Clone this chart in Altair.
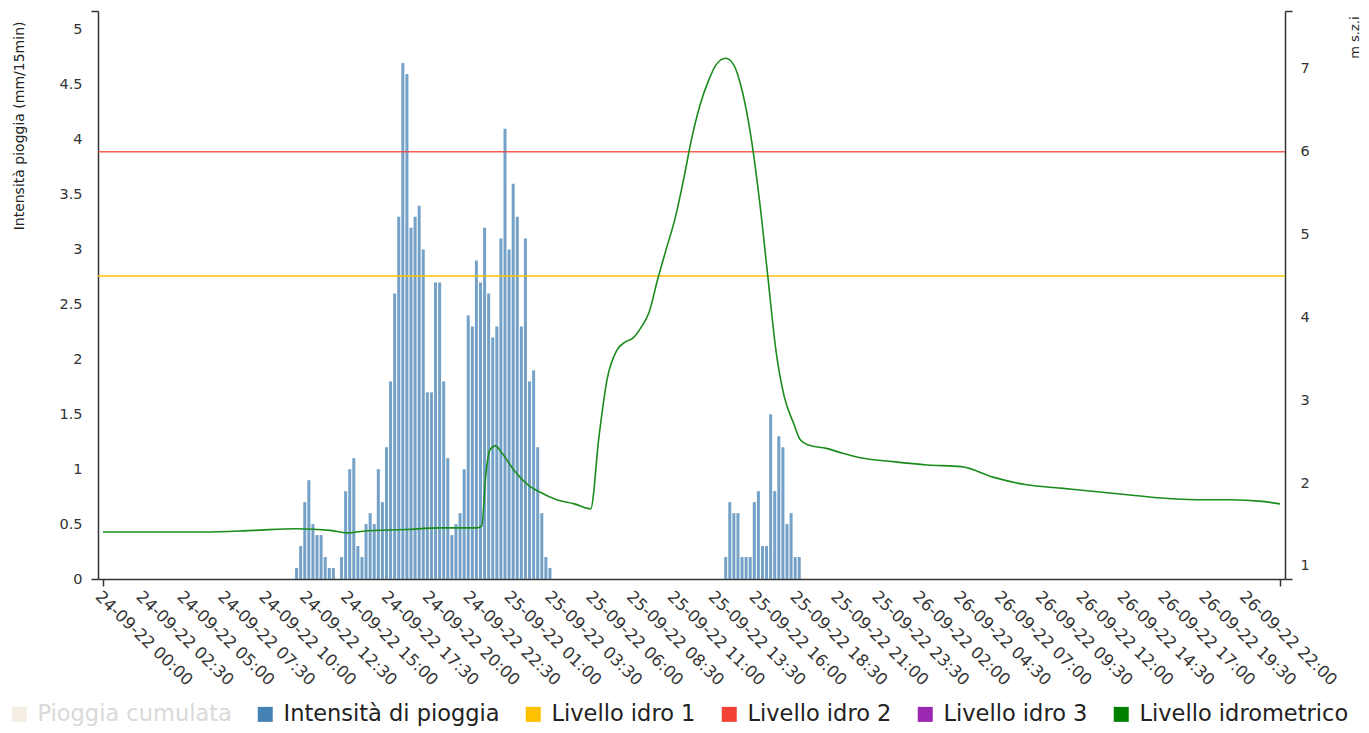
import altair as alt
import pandas as pd

# ---------------- data ----------------
# Rain intensity (mm/15min), 15-minute steps
rain_a_start = "2022-09-24T11:45:00Z"
rain_a = [0.1, 0.3, 0.7, 0.9, 0.5, 0.4, 0.4, 0.2, 0.1, 0.1,
          0.0, 0.2, 0.8, 1.0, 1.1, 0.3, 0.2, 0.5, 0.6, 0.5,
          1.0, 0.7, 1.2, 1.8, 2.6, 3.3, 4.7, 4.6, 3.2, 3.3,
          3.4, 3.0, 1.7, 1.7, 2.7, 2.7, 1.8, 1.1, 0.4, 0.5,
          0.6, 1.0, 2.4, 2.3, 2.9, 2.7, 3.2, 2.6, 2.2, 2.3,
          3.1, 4.1, 3.0, 3.6, 3.3, 2.3, 3.1, 1.8, 1.9, 1.2,
          0.6, 0.2, 0.1]
rain_b_start = "2022-09-25T14:00:00Z"
rain_b = [0.2, 0.7, 0.6, 0.6, 0.2, 0.2, 0.2, 0.7, 0.8, 0.3,
          0.3, 1.5, 0.8, 1.3, 1.2, 0.5, 0.6, 0.2, 0.2]

# Hydrometric level (m s.z.i)
level_times = ["2022-09-24T00:00", "2022-09-24T06:10", "2022-09-24T09:15", "2022-09-24T11:50",
               "2022-09-24T13:55", "2022-09-24T14:55", "2022-09-24T15:55", "2022-09-24T18:30",
               "2022-09-24T20:35", "2022-09-24T22:50", "2022-09-24T23:10", "2022-09-24T23:25",
               "2022-09-24T23:40", "2022-09-25T00:00", "2022-09-25T00:25", "2022-09-25T01:10",
               "2022-09-25T02:00", "2022-09-25T02:45", "2022-09-25T03:45", "2022-09-25T04:50",
               "2022-09-25T05:50", "2022-09-25T06:20", "2022-09-25T06:50", "2022-09-25T07:25",
               "2022-09-25T07:55", "2022-09-25T08:25", "2022-09-25T08:55", "2022-09-25T09:25",
               "2022-09-25T09:55", "2022-09-25T10:25", "2022-09-25T11:00", "2022-09-25T11:30",
               "2022-09-25T12:00", "2022-09-25T12:30", "2022-09-25T13:05", "2022-09-25T13:30",
               "2022-09-25T14:05", "2022-09-25T14:35", "2022-09-25T15:05", "2022-09-25T15:35",
               "2022-09-25T16:10", "2022-09-25T16:40", "2022-09-25T17:10", "2022-09-25T17:40",
               "2022-09-25T18:15", "2022-09-25T18:40", "2022-09-25T19:10", "2022-09-25T20:15",
               "2022-09-25T21:15", "2022-09-25T22:15", "2022-09-26T00:20", "2022-09-26T02:25",
               "2022-09-26T04:30", "2022-09-26T06:30", "2022-09-26T08:30", "2022-09-26T10:35",
               "2022-09-26T12:40", "2022-09-26T14:40", "2022-09-26T16:45", "2022-09-26T18:50",
               "2022-09-26T20:55", "2022-09-26T22:55", "2022-09-27T00:00"]
level_values = [1.41, 1.41, 1.43, 1.45, 1.43, 1.40, 1.42, 1.44, 1.46, 1.46,
                1.48, 2.10, 2.40, 2.45, 2.36, 2.15, 1.98, 1.89, 1.80, 1.75,
                1.69, 2.55, 3.25, 3.60, 3.70, 3.75, 3.88, 4.07, 4.45, 4.80,
                5.20, 5.65, 6.15, 6.55, 6.88, 7.05, 7.13, 7.05, 6.75, 6.25,
                5.40, 4.50, 3.60, 3.05, 2.72, 2.52, 2.46, 2.42, 2.36, 2.31,
                2.26, 2.22, 2.20, 2.07, 1.98, 1.94, 1.90, 1.86, 1.82, 1.80,
                1.80, 1.78, 1.75]

# Alert thresholds (m s.z.i)
idro1_value = [4.5]
idro2_value = [6.0]

# Legend entries
legend_names = ["Pioggia cumulata", "Intensità di pioggia", "Livello idro 1",
                "Livello idro 2", "Livello idro 3", "Livello idrometrico"]
legend_colors = ["#f3ede3", "#4682b4", "#ffc000", "#f44336", "#9c27b0", "#008000"]

# Axis ticks and domains
x_start, x_end = "2022-09-24T00:00:00Z", "2022-09-27T00:00:00Z"
x_last_label = "2022-09-26T22:00:00Z"
x_tick_times = pd.date_range(x_start, x_last_label, freq="150min")
left_domain = [0, 5.173]
left_ticks = [0, 0.5, 1, 1.5, 2, 2.5, 3, 3.5, 4, 4.5, 5]
right_domain = [0.843, 7.70]
right_ticks = [1, 2, 3, 4, 5, 6, 7]

# ---------------- tables ----------------
def rain_frame(start, vals):
    t = pd.date_range(start, periods=len(vals), freq="15min")
    return pd.DataFrame({"time": t.strftime("%Y-%m-%dT%H:%M:%SZ"), "value": vals,
                         "series": "Intensità di pioggia"})

rain_df = pd.concat([rain_frame(rain_a_start, rain_a), rain_frame(rain_b_start, rain_b)],
                    ignore_index=True)
level_df = pd.DataFrame({"time": [t + ":00Z" for t in level_times], "value": level_values})
idro1_df = pd.DataFrame({"value": idro1_value})
idro2_df = pd.DataFrame({"value": idro2_value})

FONT = "DejaVu Sans"
TXT = "#333333"
AX = "#333333"

x_min_ms = int(pd.Timestamp(x_start).value // 10**6)
x_max_ms = int(pd.Timestamp(x_end).value // 10**6)
x_scale = alt.Scale(type="utc", domain=[x_min_ms, x_max_ms])
x_values = [int(t.value // 10**6) for t in x_tick_times] + [x_max_ms]
x_axis = alt.Axis(values=x_values,
                  labelExpr=f"datum.value >= {x_max_ms} ? '' : utcFormat(datum.value, '%d-%m-%y %H:%M')",
                  labelAngle=44, labelAlign="left", labelBaseline="top",
                  labelFont=FONT, labelFontSize=16.5, labelColor=TXT, labelPadding=2,
                  ticks=True, tickSize=7, tickWidth=1.5, tickColor=AX,
                  tickOpacity=alt.ExprRef(
                      expr=f"datum.value <= {x_min_ms} || datum.value >= {x_max_ms} ? 1 : 0"),
                  grid=False, domainColor=AX, domainWidth=1.5,
                  title=None, labelOverlap=False, labelFlush=False)

left_axis = alt.Axis(orient="left", values=left_ticks + [left_domain[1]],
                     labelExpr=f"datum.value > {left_domain[1] - 0.01} ? '' : format(datum.value, '~g')",
                     ticks=True, tickSize=7, tickWidth=1.5, tickColor=AX,
                     tickOpacity=alt.ExprRef(
                         expr=f"datum.value == 0 || datum.value > {left_domain[1] - 0.01} ? 1 : 0"),
                     grid=False, domainColor=AX, domainWidth=1.5,
                     labelFont=FONT, labelFontSize=14.5, labelColor=TXT, labelPadding=9,
                     title="Intensità pioggia (mm/15min)", titleFont=FONT, titleFontSize=14,
                     titleFontWeight="normal", titleColor="#222", titleAngle=270,
                     titleAlign="right", titleBaseline="middle", titleX=-79, titleY=10)

right_scale = alt.Scale(domain=right_domain, nice=False, zero=False)
right_axis = alt.Axis(orient="right", values=[right_domain[0]] + right_ticks + [right_domain[1]],
                      labelExpr=(f"datum.value < {right_domain[0] + 0.01} || "
                                 f"datum.value > {right_domain[1] - 0.01} ? '' : format(datum.value, 'd')"),
                      ticks=True, tickSize=7, tickWidth=1.5, tickColor=AX,
                      tickOpacity=alt.ExprRef(
                          expr=(f"datum.value < {right_domain[0] + 0.01} || "
                                f"datum.value > {right_domain[1] - 0.01} ? 1 : 0")),
                      grid=False, domainColor=AX, domainWidth=1.5,
                      labelFont=FONT, labelFontSize=14.5, labelColor=TXT, labelPadding=8,
                      title="m s.z.i", titleFont=FONT, titleFontSize=13,
                      titleFontWeight="normal", titleColor="#222", titleAngle=270,
                      titleAlign="right", titleBaseline="middle", titleX=69, titleY=5)

legend = alt.Legend(orient="none", legendX=-90, legendY=692, direction="horizontal",
                    title=None, symbolType="square", symbolSize=225, symbolStrokeWidth=0,
                    symbolOpacity=1, labelFont=FONT, labelFontSize=22.5, labelOffset=7,
                    labelLimit=400, columnPadding=22,
                    labelColor=alt.ExprRef(expr="datum.label == 'Pioggia cumulata' ? '#d9d9d9' : '#222222'"))

bars = alt.Chart(rain_df).mark_bar(width=3, xOffset=1.5, opacity=0.75).encode(
    x=alt.X("time:T", scale=x_scale, axis=x_axis),
    y=alt.Y("value:Q", scale=alt.Scale(domain=left_domain, nice=False), axis=left_axis),
    color=alt.Color("series:N", scale=alt.Scale(domain=legend_names, range=legend_colors),
                    legend=legend),
)

rule1 = alt.Chart(idro1_df).mark_rule(color="#ffc000", strokeWidth=1.6).encode(
    y=alt.Y("value:Q", scale=right_scale, axis=right_axis))
rule2 = alt.Chart(idro2_df).mark_rule(color="#f44336", strokeWidth=1.4, opacity=0.85).encode(
    y=alt.Y("value:Q", scale=right_scale, axis=right_axis))
line = alt.Chart(level_df).mark_line(color="#1b8c1b", strokeWidth=1.6,
                                      interpolate="monotone").encode(
    x=alt.X("time:T", scale=x_scale, axis=x_axis),
    y=alt.Y("value:Q", scale=right_scale, axis=right_axis))

right = alt.layer(rule1, rule2, line)

chart = alt.layer(bars, right).resolve_scale(y="independent").properties(
    width=1187, height=568,
    padding={"left": 0, "top": 2, "right": 0, "bottom": 0},
    background="white",
).configure_view(stroke=None)

chart.save("out.html", embed_options={"renderer": "svg", "actions": False})
